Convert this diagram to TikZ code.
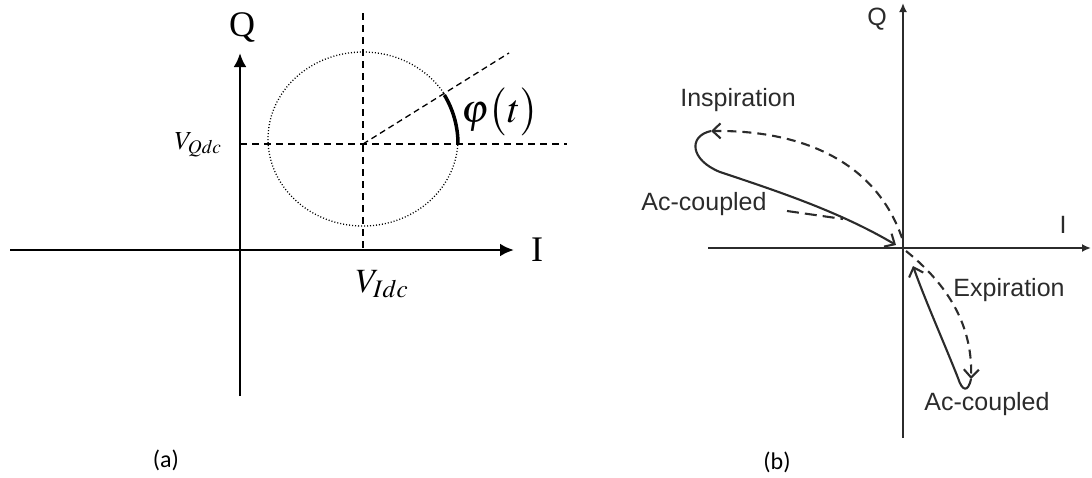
\documentclass[tikz,border=0pt]{standalone}
\usepackage{mathptmx}
\usepackage{fontspec}
\setmainfont{Liberation Serif}
\newfontfamily\arialfont{Liberation Sans}
\newfontfamily\calibrifont{Carlito}
\usetikzlibrary{arrows.meta,calc,positioning}
\definecolor{axisgray}{rgb}{0.17,0.17,0.17}

\begin{document}
\begin{tikzpicture}[x=1pt,y=-1pt,
    axisa/.style={line width=2.8pt,-{Latex[length=14pt,width=13pt]}},
    axisb/.style={axisgray,line width=2.2pt,-{Latex[length=9pt,width=8pt]}},
    guide/.style={line width=2.1pt,dash pattern=on 7pt off 5pt},
    curveb/.style={axisgray,line width=2.1pt,-{Straight Barb[length=8pt,width=15pt]}},
    curvebd/.style={curveb,dash pattern=on 9pt off 6pt},
    bigserif/.style={font=\fontsize{36}{40}\selectfont},
    sanslabel/.style={axisgray,font=\arialfont\fontsize{25}{28}\selectfont},
    caption/.style={font=\calibrifont\fontsize{24}{28}\selectfont}]
  \useasboundingbox (0,0) rectangle (1092,477);
  % Panel (a): axes
  \coordinate (aLeft) at (10,250);
  \coordinate (aRight) at (514,250);
  \coordinate (aBottom) at (240,396);
  \coordinate (aTop) at (240,53);
  \draw[axisa] (aLeft) -- (aRight);
  \draw[axisa] (aBottom) -- (aTop);
  \node[bigserif] (aQ) at (242,27) {Q};
  \node[bigserif] (aI) at (537,250) {I};
  % dashed guides through the centre
  \coordinate (centre) at (363,144);
  \draw[guide] (363,13) -- (363,250);
  \draw[guide] (240,144) -- (567,144);
  \draw[line width=1.3pt,dash pattern=on 6pt off 4pt] (centre) -- (509,53);
  % dotted circle and angle
  \draw[line width=1.3pt,dash pattern=on 1pt off 2pt] (363,139) ellipse [x radius=95, y radius=87];
  \draw[line width=3.5pt] ($(centre)+(95,0)$) arc [start angle=0, end angle=-31, radius=95];
  \node[font=\fontsize{40}{44}\selectfont] (phi) at (500,112) {$\varphi\bigl(t\bigr)$};
  \node[font=\fontsize{26}{30}\selectfont] (vq) at (198,145) {$V_{Qdc}$};
  \node[font=\fontsize{34}{38}\selectfont] (vi) at (382,284) {$V_{Idc}$};
  \node[caption] (capa) at (166,460) {(a)};
  % Panel (b): axes
  \coordinate (bLeft) at (708,248);
  \coordinate (bRight) at (1091,248);
  \coordinate (bBottom) at (903,438);
  \coordinate (bTop) at (903,3);
  \draw[axisb] (bLeft) -- (bRight);
  \draw[axisb] (bBottom) -- (bTop);
  \node[sanslabel] (bQ) at (877,19) {Q};
  \node[sanslabel] (bI) at (1063,225) {I};
  % inspiration loop
  \coordinate (inTip) at (711,131);
  \coordinate (origin) at (902,238);
  \draw[curvebd] (origin) .. controls (875,160) and (800,130) .. (inTip);
  \draw[curveb] (inTip) .. controls (688,136) and (690,160) .. (720,172) .. controls (780,192) and (840,212) .. (896,245);
  \draw[axisgray,line width=2.1pt,dash pattern=on 12pt off 6pt] (787,211) -- (843,219);
  % expiration loop
  \coordinate (exStart) at (906,251);
  \coordinate (exTip) at (971,379);
  \draw[curvebd] (exStart) .. controls (942,280) and (973,320) .. (exTip);
  \draw[curveb] (exTip) .. controls (968,393) and (962,391) .. (958,378) .. controls (945,345) and (925,300) .. (913,266);
  % labels
  \node[sanslabel] (insp) at (738,100) {Inspiration};
  \node[sanslabel] (acup) at (704,204) {Ac-coupled};
  \node[sanslabel] (expi) at (1009,290) {Expiration};
  \node[sanslabel] (acdown) at (987,404) {Ac-coupled};
  \node[caption] (capb) at (777,462) {(b)};
\end{tikzpicture}
\end{document}
